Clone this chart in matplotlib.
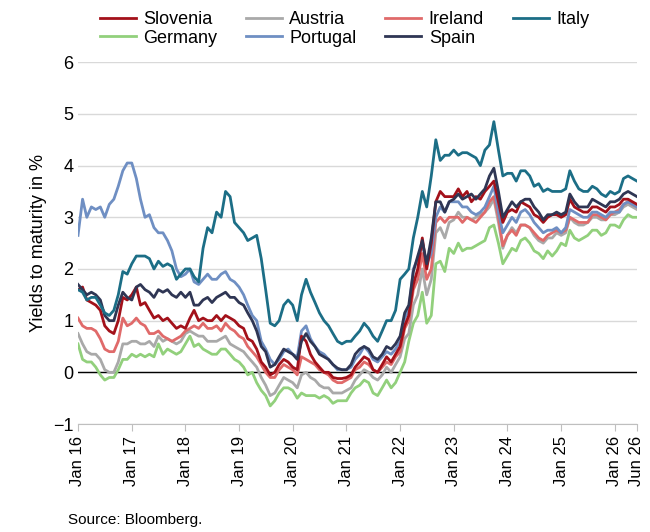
import matplotlib
matplotlib.use("Agg")
import matplotlib.pyplot as plt
import pandas as pd

dates = pd.date_range("2016-01-01", "2026-06-01", freq="MS")

italy = [1.6,1.55,1.4,1.45,1.45,1.3,1.15,1.1,1.2,1.5,1.95,1.9,
 2.1,2.25,2.25,2.25,2.2,2.0,2.15,2.05,2.1,2.05,1.8,1.9,
 2.0,2.0,1.85,1.75,2.4,2.8,2.7,3.1,3.0,3.5,3.4,2.9,
 2.8,2.7,2.55,2.6,2.65,2.2,1.6,0.95,0.9,1.0,1.3,1.4,
 1.3,1.0,1.5,1.8,1.55,1.35,1.15,1.0,0.9,0.75,0.6,0.55,
 0.6,0.6,0.7,0.8,0.95,0.85,0.7,0.6,0.8,1.0,1.0,1.2,
 1.8,1.9,2.0,2.6,3.0,3.5,3.2,3.8,4.5,4.1,4.2,4.2,
 4.3,4.2,4.25,4.25,4.2,4.15,4.0,4.3,4.4,4.85,4.3,3.8,
 3.85,3.85,3.7,3.9,3.9,3.8,3.6,3.65,3.5,3.55,3.5,3.5,
 3.5,3.55,3.9,3.7,3.55,3.5,3.5,3.6,3.55,3.45,3.4,3.5,
 3.45,3.5,3.75,3.8,3.75,3.7]
portugal = [2.65,3.35,3.0,3.2,3.15,3.2,3.0,3.25,3.35,3.6,3.9,4.05,
 4.05,3.75,3.35,3.0,3.05,2.8,2.7,2.7,2.55,2.35,2.0,1.85,
 1.9,2.0,1.75,1.7,1.8,1.9,1.8,1.8,1.9,1.95,1.8,1.75,
 1.65,1.5,1.3,1.1,1.0,0.6,0.45,0.25,0.15,0.25,0.4,0.45,
 0.35,0.3,0.8,0.9,0.65,0.5,0.4,0.35,0.25,0.15,0.05,0.05,
 0.05,0.1,0.25,0.35,0.5,0.4,0.25,0.2,0.3,0.4,0.35,0.45,
 0.6,1.05,1.2,2.0,2.2,2.5,2.1,2.3,3.0,3.2,3.1,3.3,
 3.3,3.3,3.2,3.2,3.1,3.05,3.1,3.2,3.4,3.6,3.1,2.7,
 2.85,3.0,2.9,3.1,3.15,3.05,2.9,2.8,2.7,2.75,2.75,2.8,
 2.7,2.8,3.15,3.1,3.05,3.0,3.0,3.1,3.1,3.05,3.0,3.1,
 3.1,3.1,3.25,3.3,3.25,3.2]
spain = [1.7,1.6,1.5,1.55,1.5,1.4,1.1,1.0,1.0,1.3,1.55,1.45,
 1.4,1.65,1.7,1.6,1.55,1.45,1.6,1.55,1.6,1.5,1.45,1.55,
 1.45,1.55,1.3,1.3,1.4,1.45,1.35,1.45,1.5,1.55,1.45,1.45,
 1.35,1.3,1.15,1.0,0.8,0.5,0.4,0.1,0.15,0.3,0.45,0.4,
 0.35,0.25,0.6,0.75,0.6,0.5,0.35,0.3,0.25,0.15,0.08,0.05,
 0.05,0.15,0.35,0.45,0.5,0.45,0.3,0.25,0.35,0.5,0.45,0.55,
 0.7,1.15,1.3,1.95,2.25,2.55,2.1,2.6,3.3,3.3,3.1,3.3,
 3.35,3.45,3.35,3.4,3.45,3.35,3.45,3.55,3.8,3.95,3.5,3.0,
 3.15,3.3,3.2,3.3,3.35,3.35,3.2,3.1,2.95,3.05,3.05,3.1,
 3.05,3.1,3.45,3.3,3.2,3.2,3.2,3.35,3.3,3.25,3.2,3.3,
 3.3,3.35,3.45,3.5,3.45,3.4]
slovenia = [1.6,1.65,1.4,1.35,1.3,1.2,0.9,0.8,0.75,1.0,1.45,1.4,
 1.5,1.65,1.3,1.35,1.2,1.05,1.1,1.0,1.05,0.95,0.85,0.9,
 0.85,1.05,1.2,1.0,1.05,1.0,1.0,1.1,1.0,1.1,1.05,1.0,
 0.9,0.85,0.65,0.6,0.45,0.2,0.1,-0.05,0.0,0.15,0.25,0.2,
 0.1,0.05,0.7,0.6,0.35,0.2,0.1,0.0,0.0,-0.1,-0.12,-0.12,
 -0.1,-0.05,0.1,0.2,0.3,0.25,0.05,0.0,0.15,0.3,0.2,0.35,
 0.5,0.9,1.1,1.7,2.0,2.6,2.0,2.5,3.3,3.5,3.4,3.4,
 3.4,3.55,3.4,3.5,3.3,3.4,3.35,3.5,3.6,3.7,3.3,2.9,
 3.1,3.15,3.1,3.3,3.25,3.2,3.05,3.0,2.9,3.0,3.05,3.05,
 3.0,3.05,3.35,3.2,3.15,3.1,3.1,3.2,3.2,3.15,3.1,3.2,
 3.2,3.25,3.35,3.35,3.3,3.25]
ireland = [1.05,0.9,0.85,0.85,0.8,0.65,0.45,0.4,0.4,0.6,1.05,0.9,
 0.95,1.05,0.95,0.9,0.75,0.75,0.8,0.7,0.65,0.6,0.65,0.7,
 0.8,0.85,0.9,0.85,0.95,0.85,0.85,0.9,0.8,0.95,0.85,0.8,
 0.7,0.65,0.5,0.4,0.3,0.15,0.0,-0.1,-0.1,0.05,0.15,0.1,
 0.05,-0.05,0.3,0.25,0.2,0.15,0.05,0.0,-0.05,-0.15,-0.2,-0.2,
 -0.15,-0.1,0.05,0.1,0.2,0.15,0.05,0.0,0.1,0.2,0.15,0.3,
 0.4,0.85,1.0,1.6,1.8,2.3,1.8,2.0,2.9,3.0,2.9,3.0,
 3.0,3.0,2.9,3.0,2.95,2.9,3.0,3.1,3.3,3.4,3.0,2.45,
 2.65,2.75,2.65,2.85,2.85,2.8,2.7,2.6,2.55,2.65,2.7,2.75,
 2.7,2.75,3.0,2.95,2.9,2.9,2.9,3.05,3.05,3.0,2.95,3.05,
 3.1,3.15,3.25,3.3,3.25,3.2]
austria = [0.75,0.55,0.4,0.35,0.35,0.25,0.05,0.0,0.0,0.2,0.55,0.55,
 0.6,0.6,0.55,0.55,0.6,0.5,0.7,0.6,0.65,0.6,0.55,0.6,
 0.75,0.8,0.75,0.7,0.7,0.6,0.6,0.6,0.65,0.7,0.55,0.5,
 0.45,0.4,0.3,0.2,0.1,-0.1,-0.25,-0.45,-0.4,-0.25,-0.1,-0.15,
 -0.2,-0.3,-0.05,0.0,-0.1,-0.15,-0.25,-0.3,-0.3,-0.4,-0.4,-0.4,
 -0.35,-0.3,-0.15,-0.05,0.05,0.0,-0.1,-0.15,-0.05,0.1,0.0,0.15,
 0.3,0.65,0.75,1.3,1.5,2.0,1.5,1.8,2.7,2.8,2.6,2.9,
 2.95,3.1,3.0,3.0,2.95,3.0,3.05,3.1,3.2,3.35,2.9,2.4,
 2.65,2.8,2.7,2.85,2.85,2.8,2.65,2.55,2.5,2.6,2.6,2.7,
 2.65,2.7,3.0,2.9,2.85,2.85,2.9,3.0,3.0,2.95,2.95,3.05,
 3.05,3.1,3.2,3.25,3.2,3.15]
germany = [0.55,0.25,0.2,0.2,0.1,-0.05,-0.15,-0.1,-0.1,0.05,0.25,0.25,
 0.35,0.3,0.35,0.3,0.35,0.3,0.55,0.35,0.45,0.4,0.35,0.4,
 0.55,0.7,0.5,0.55,0.45,0.4,0.35,0.35,0.45,0.45,0.35,0.25,
 0.2,0.1,-0.05,0.0,-0.2,-0.35,-0.45,-0.65,-0.55,-0.4,-0.3,-0.3,
 -0.35,-0.5,-0.4,-0.45,-0.45,-0.45,-0.5,-0.45,-0.5,-0.6,-0.55,-0.55,
 -0.55,-0.4,-0.3,-0.25,-0.15,-0.2,-0.4,-0.45,-0.3,-0.15,-0.3,-0.2,
 0.0,0.2,0.6,0.95,1.1,1.55,0.95,1.1,2.1,2.15,1.95,2.4,
 2.3,2.5,2.35,2.4,2.4,2.45,2.5,2.55,2.8,2.85,2.5,2.1,
 2.25,2.4,2.35,2.55,2.6,2.5,2.35,2.3,2.2,2.35,2.25,2.35,
 2.5,2.45,2.75,2.6,2.55,2.6,2.65,2.75,2.75,2.65,2.7,2.85,
 2.85,2.8,2.95,3.05,3.0,3.0]

tick_dates = ["2016-01","2017-01","2018-01","2019-01","2020-01","2021-01",
              "2022-01","2023-01","2024-01","2025-01","2026-01","2026-06"]
tick_labels = ["Jan 16","Jan 17","Jan 18","Jan 19","Jan 20","Jan 21",
               "Jan 22","Jan 23","Jan 24","Jan 25","Jan 26","Jun 26"]

plt.rcParams['font.family'] = ['Liberation Sans', 'DejaVu Sans']
fig = plt.figure(figsize=(6.5, 5.32), dpi=100)
ax = fig.add_axes([0.12, 0.203, 0.86, 0.68])

series = [("Slovenia", slovenia, "#A3111A"), ("Austria", austria, "#A9A9A9"),
          ("Ireland", ireland, "#E06A6A"), ("Italy", italy, "#1C6E86"),
          ("Germany", germany, "#92D07C"), ("Portugal", portugal, "#6F8FC3"),
          ("Spain", spain, "#2F3654")]
order = ["Germany","Austria","Ireland","Portugal","Slovenia","Spain","Italy"]
handles = {}
for name, vals, col in series:
    z = 3 + order.index(name)
    handles[name], = ax.plot(dates, vals, color=col, lw=2, label=name, zorder=z)

ax.set_ylim(-1, 6)
ax.set_xlim(pd.Timestamp("2016-01-01"), pd.Timestamp("2026-06-01"))
ax.set_yticks(range(-1, 7))
ax.tick_params(axis='y', length=0, labelsize=13)
ax.grid(axis='y', color='#D9D9D9', lw=1)
ax.set_axisbelow(True)
ax.axhline(0, color='black', lw=1, zorder=2)
ax.set_xticks(pd.to_datetime(tick_dates))
ax.set_xticklabels(tick_labels, rotation=90, fontsize=12)
ax.tick_params(axis='x', length=5, direction='out', color='#BFBFBF')
for s in ['top', 'right', 'left']:
    ax.spines[s].set_visible(False)
ax.spines['bottom'].set_color('#BFBFBF')
ax.set_ylabel("Yields to maturity in %", fontsize=13)

leg_order = ["Slovenia", "Germany", "Austria", "Portugal", "Ireland", "Spain", "Italy"]
fig.legend([handles[n] for n in leg_order], leg_order,
           loc='upper center', bbox_to_anchor=(0.53, 1.01), ncol=4, frameon=False,
           fontsize=13, handlelength=2.0, columnspacing=1.6, labelspacing=0.1,
           handletextpad=0.4)
fig.text(0.105, 0.015, "Source: Bloomberg.", fontsize=11)
fig.savefig("out.png")
